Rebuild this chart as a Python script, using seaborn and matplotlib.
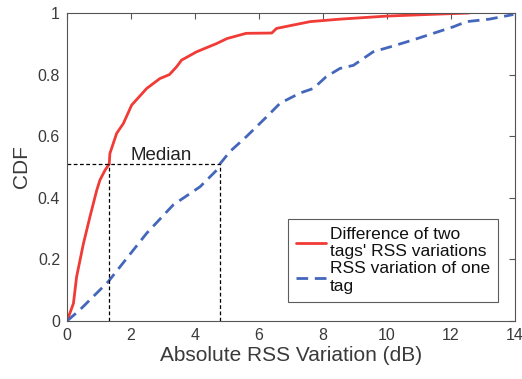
import matplotlib

matplotlib.use("Agg")

import pandas as pd
import seaborn as sns
import matplotlib.pyplot as plt


# Difference of two tags' RSS variations
diff_x = [0.0, 0.2, 0.3, 0.51, 0.72, 0.93, 1.03, 1.19, 1.32, 1.34, 1.55, 1.76,
          2.02, 2.49, 2.9, 3.2, 3.43, 3.58, 4.05, 4.68, 5.0, 5.6, 6.4, 6.55, 7.6,
          8.53, 10.0, 11.24, 12.57]
diff_y = [0.0, 0.057, 0.144, 0.25, 0.34, 0.425, 0.458, 0.49, 0.51, 0.544, 0.609, 0.641,
          0.701, 0.755, 0.787, 0.80, 0.826, 0.847, 0.874, 0.901, 0.917, 0.934, 0.935, 0.95,
          0.972, 0.98, 0.99, 0.995, 1.0]

# RSS variation of one tag
one_x = [0.0, 0.4, 1.29, 2.49, 3.32, 4.16, 4.68, 4.78, 5.09, 5.6, 6.24, 6.66,
         7.28, 7.7, 8.1, 8.53, 8.95, 9.57, 10.2, 10.8, 11.45, 12.07, 12.49, 13.2, 13.95]
one_y = [0.0, 0.036, 0.128, 0.285, 0.377, 0.436, 0.49, 0.51, 0.55, 0.598, 0.663, 0.707,
         0.74, 0.755, 0.793, 0.82, 0.83, 0.874, 0.893, 0.912, 0.934, 0.955, 0.972, 0.98, 0.995]

median_level = 0.51
median_diff = 1.32
median_one = 4.78

labels = ["Difference of two\ntags' RSS variations", "RSS variation of one\ntag"]

sns.set_style("white")
plt.rcParams["font.family"] = ["Liberation Sans", "DejaVu Sans"]

text_color = "#3a3a3a"

fig = plt.figure(figsize=(5.22, 3.79), dpi=100)
ax = fig.add_axes([0.1284, 0.153, 0.858, 0.8127])

df_diff = pd.DataFrame({"x": diff_x, "y": diff_y})
df_one = pd.DataFrame({"x": one_x, "y": one_y})

sns.lineplot(data=df_diff, x="x", y="y", ax=ax, color="#f03b36", linewidth=2.0,
             label=labels[0], sort=False)
sns.lineplot(data=df_one, x="x", y="y", ax=ax, color="#4466bb", linewidth=2.0,
             label=labels[1], sort=False)
ax.lines[1].set_dashes([4.2, 2.4])

# median guides
guide = dict(color="black", linestyle=(0, (3, 2)), linewidth=0.9)
ax.plot([0, median_one], [median_level, median_level], **guide)
ax.plot([median_diff, median_diff], [0, median_level], **guide)
ax.plot([median_one, median_one], [0, median_level], **guide)
ax.text(2.94, 0.522, "Median", ha="center", va="baseline", fontsize=13.5, color="#222222")

ax.set_xlim(0, 14)
ax.set_ylim(0, 1)
ax.set_xticks(range(0, 15, 2))
ax.set_yticks([0, 0.2, 0.4, 0.6, 0.8, 1])
ax.set_yticklabels(["0", "0.2", "0.4", "0.6", "0.8", "1"])
ax.tick_params(direction="in", length=4, width=0.8, top=True, right=True,
               labelsize=11.5, colors="#555555", labelcolor=text_color, pad=5)
for spine in ax.spines.values():
    spine.set_color("#555555")
    spine.set_linewidth(0.8)

ax.set_xlabel("Absolute RSS Variation (dB)", fontsize=15, color=text_color, labelpad=2)
ax.set_ylabel("CDF", fontsize=15, color=text_color, labelpad=5)

leg = ax.legend(loc="lower right", bbox_to_anchor=(0.962, 0.063), fontsize=12.5,
                frameon=True, fancybox=False, handlelength=1.75, handletextpad=0.2,
                borderpad=0.45, labelspacing=0.12, borderaxespad=0)
leg.get_frame().set_edgecolor("#333333")
leg.get_frame().set_linewidth(0.8)
for t in leg.get_texts():
    t.set_color("#111111")

fig.savefig("out.png", dpi=100)
plt.close(fig)
